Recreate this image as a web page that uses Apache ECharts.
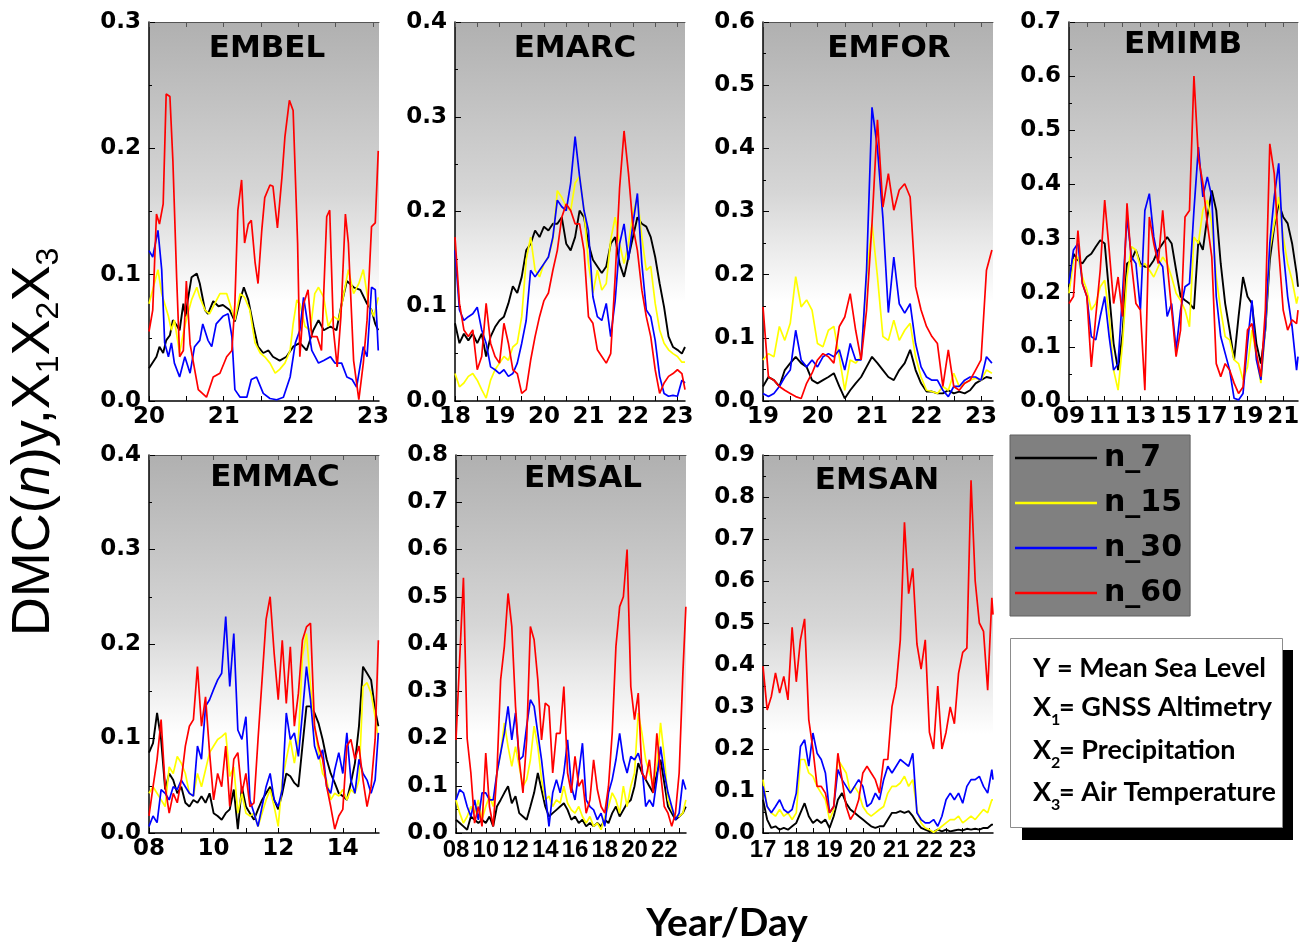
<!DOCTYPE html>
<html>
<head>
<meta charset="utf-8">
<script src="https://cdn.jsdelivr.net/npm/echarts@6/dist/echarts.min.js"></script>
<style>
  html, body { margin: 0; padding: 0; background: #fff; }
  #chart { width: 1306px; height: 944px; }
</style>
</head>
<body>
<div id="chart"></div>
<script>
// ---- Series names and colours (legend order) ----
const seriesNames = ['n_7', 'n_15', 'n_30', 'n_60'];
const seriesColors = ['#000000', '#ffff00', '#0000ff', '#ff0000'];

// ---- EMBEL: [day, DMC] pairs ----
const embelN7 = [[20.00,.026],[20.10,.035],[20.14,.043],[20.19,.038],[20.23,.048],[20.28,.052],[20.32,.064],[20.37,.060],[20.41,.056],[20.46,.077],[20.49,.067],[20.52,.080],[20.57,.098],[20.64,.101],[20.68,.093],[20.75,.072],[20.79,.069],[20.86,.079],[20.93,.075],[20.99,.076],[21.08,.072],[21.15,.063],[21.22,.080],[21.27,.090],[21.33,.080],[21.40,.059],[21.46,.043],[21.53,.038],[21.60,.040],[21.66,.035],[21.75,.032],[21.84,.035],[21.93,.043],[22.02,.046],[22.11,.040],[22.20,.056],[22.27,.064],[22.34,.056],[22.43,.059],[22.51,.056],[22.58,.077],[22.65,.095],[22.74,.090],[22.83,.088],[22.92,.077],[22.98,.072],[23.03,.061],[23.07,.056]];
const embelN15 = [[20.00,.077],[20.05,.088],[20.12,.104],[20.17,.085],[20.21,.077],[20.26,.067],[20.30,.056],[20.34,.064],[20.41,.038],[20.46,.054],[20.51,.067],[20.57,.080],[20.64,.090],[20.68,.082],[20.75,.072],[20.81,.069],[20.88,.077],[20.95,.085],[21.04,.085],[21.11,.072],[21.15,.064],[21.22,.085],[21.28,.082],[21.35,.072],[21.42,.046],[21.49,.038],[21.55,.035],[21.62,.030],[21.69,.022],[21.75,.025],[21.82,.030],[21.89,.040],[21.93,.061],[21.98,.080],[22.02,.077],[22.09,.059],[22.16,.056],[22.22,.085],[22.27,.090],[22.34,.082],[22.40,.059],[22.47,.067],[22.54,.064],[22.60,.082],[22.67,.104],[22.74,.085],[22.81,.093],[22.87,.104],[22.94,.077],[23.01,.067],[23.07,.082]];
const embelN30 = [[20.00,.119],[20.05,.114],[20.12,.135],[20.17,.104],[20.21,.046],[20.26,.035],[20.30,.046],[20.34,.030],[20.41,.019],[20.48,.035],[20.55,.022],[20.61,.043],[20.68,.048],[20.72,.061],[20.79,.048],[20.84,.043],[20.90,.061],[20.99,.067],[21.06,.069],[21.11,.051],[21.15,.009],[21.22,.003],[21.31,.003],[21.37,.017],[21.44,.019],[21.53,.006],[21.62,.002],[21.71,.001],[21.80,.003],[21.89,.019],[21.96,.046],[22.02,.056],[22.07,.082],[22.11,.067],[22.18,.040],[22.27,.030],[22.34,.032],[22.43,.035],[22.49,.030],[22.58,.030],[22.65,.019],[22.72,.017],[22.78,.011],[22.87,.043],[22.92,.035],[22.98,.090],[23.03,.088],[23.07,.040]];
const embelN60 = [[20.00,.055],[20.05,.072],[20.10,.148],[20.14,.140],[20.19,.156],[20.23,.243],[20.28,.241],[20.32,.190],[20.37,.098],[20.41,.035],[20.46,.040],[20.50,.095],[20.55,.045],[20.59,.032],[20.66,.009],[20.77,.003],[20.86,.019],[20.95,.022],[21.04,.035],[21.11,.040],[21.15,.077],[21.19,.151],[21.24,.175],[21.28,.125],[21.33,.140],[21.37,.143],[21.42,.110],[21.46,.093],[21.51,.135],[21.55,.161],[21.62,.171],[21.66,.170],[21.72,.137],[21.78,.177],[21.82,.209],[21.88,.238],[21.93,.230],[21.99,.125],[22.02,.035],[22.07,.077],[22.13,.088],[22.18,.051],[22.25,.051],[22.31,.040],[22.38,.146],[22.42,.151],[22.47,.056],[22.52,.027],[22.57,.067],[22.63,.148],[22.67,.125],[22.74,.032],[22.81,.001],[22.87,.030],[22.92,.064],[22.98,.138],[23.03,.141],[23.07,.198]];
const embelTicks = [20, 21, 22, 23];

// ---- EMARC ----
const arcDays = [18.0,18.1,18.2,18.3,18.4,18.5,18.6,18.7,18.8,18.9,19.0,19.1,19.2,19.3,19.4,19.5,19.6,19.7,19.8,19.9,20.0,20.1,20.2,20.3,20.4,20.5,20.6,20.7,20.8,20.9,21.0,21.1,21.2,21.3,21.4,21.5,21.6,21.7,21.8,21.9,22.0,22.1,22.2,22.3,22.4,22.5,22.6,22.7,22.8,22.9,23.0,23.1,23.17];
const arcN7 = [.082,.061,.071,.064,.071,.061,.071,.047,.068,.078,.085,.089,.103,.121,.114,.131,.159,.166,.180,.173,.184,.180,.187,.187,.194,.166,.159,.173,.201,.194,.166,.149,.142,.135,.142,.166,.173,.145,.131,.152,.173,.194,.187,.184,.173,.152,.124,.099,.068,.057,.054,.050,.057];
const arcN15 = [.029,.015,.019,.026,.029,.022,.012,.003,.022,.033,.040,.047,.043,.057,.061,.089,.149,.173,.138,.131,.145,.152,.170,.222,.215,.205,.201,.230,.237,.201,.145,.114,.138,.117,.124,.170,.194,.166,.145,.166,.198,.215,.173,.138,.142,.103,.075,.061,.054,.050,.047,.041,.041];
const arcN30 = [.159,.096,.085,.089,.092,.099,.075,.061,.036,.033,.029,.033,.026,.029,.040,.061,.085,.138,.131,.138,.145,.152,.173,.212,.205,.201,.230,.279,.237,.201,.180,.110,.089,.085,.103,.068,.106,.166,.187,.149,.187,.219,.145,.096,.089,.064,.026,.008,.005,.006,.005,.022,.019];
const arcN60 = [.173,.103,.075,.068,.075,.033,.047,.103,.061,.047,.040,.082,.061,.033,.029,.008,.012,.043,.068,.089,.106,.114,.138,.159,.194,.208,.201,.187,.187,.159,.089,.082,.054,.047,.040,.050,.131,.225,.285,.240,.184,.159,.117,.089,.068,.033,.008,.019,.026,.029,.033,.029,.012];
const arcTicks = [18, 19, 20, 21, 22, 23];

// ---- EMFOR ----
const forDays = [19.0,19.1,19.2,19.3,19.4,19.5,19.6,19.7,19.8,19.9,20.0,20.1,20.2,20.3,20.4,20.5,20.6,20.7,20.8,20.9,21.0,21.1,21.2,21.3,21.4,21.5,21.6,21.7,21.8,21.9,22.0,22.1,22.2,22.3,22.4,22.5,22.6,22.7,22.8,22.9,23.0,23.1,23.2];
const forN7 = [.023,.038,.033,.023,.049,.060,.070,.060,.054,.033,.028,.033,.038,.044,.023,.004,.017,.028,.038,.054,.070,.060,.049,.038,.033,.049,.060,.081,.049,.028,.015,.015,.012,.012,.017,.012,.015,.012,.017,.028,.033,.038,.036];
const forN15 = [.065,.075,.070,.118,.096,.123,.197,.149,.160,.144,.091,.086,.112,.118,.070,.017,.065,.060,.070,.197,.281,.197,.102,.096,.128,.096,.112,.123,.070,.038,.017,.015,.012,.023,.017,.044,.023,.028,.033,.036,.033,.049,.044];
const forN30 = [.012,.007,.012,.023,.038,.049,.112,.065,.054,.065,.054,.070,.075,.070,.081,.049,.091,.065,.065,.207,.465,.400,.290,.140,.228,.154,.139,.154,.091,.054,.038,.033,.033,.017,.007,.023,.023,.033,.038,.038,.033,.070,.060];
const forN60 = [.149,.038,.033,.023,.017,.012,.007,.004,.028,.044,.065,.075,.070,.060,.118,.133,.170,.112,.065,.144,.281,.445,.307,.360,.302,.334,.344,.323,.181,.144,.118,.102,.091,.023,.081,.023,.017,.028,.033,.049,.065,.207,.239];
const forTicks = [19, 20, 21, 22, 23];

// ---- EMIMB ----
const imbDays = [9.00,9.25,9.50,9.75,10.00,10.25,10.50,10.75,11.00,11.25,11.50,11.75,12.00,12.25,12.50,12.75,13.00,13.25,13.50,13.75,14.00,14.25,14.50,14.75,15.00,15.25,15.50,15.75,16.00,16.25,16.50,16.75,17.00,17.25,17.50,17.75,18.00,18.25,18.50,18.75,19.00,19.25,19.50,19.75,20.00,20.25,20.50,20.75,21.00,21.25,21.50,21.75,21.83];
const imbN7 = [.211,.272,.260,.254,.266,.272,.285,.297,.291,.199,.106,.057,.125,.254,.260,.279,.254,.248,.248,.260,.279,.291,.303,.291,.242,.193,.186,.180,.170,.297,.279,.340,.389,.352,.254,.180,.131,.076,.156,.229,.193,.180,.106,.069,.131,.260,.322,.365,.340,.328,.291,.236,.211];
const imbN15 = [.199,.260,.266,.229,.205,.168,.180,.211,.223,.156,.057,.020,.106,.229,.285,.279,.248,.254,.242,.229,.248,.266,.254,.229,.199,.186,.168,.137,.303,.291,.352,.371,.328,.229,.168,.119,.113,.076,.069,.039,.063,.131,.082,.033,.131,.279,.328,.377,.303,.254,.223,.180,.193];
const imbN30 = [.217,.279,.291,.217,.193,.119,.113,.156,.193,.119,.057,.069,.199,.340,.266,.254,.168,.352,.383,.303,.260,.248,.156,.180,.094,.168,.211,.217,.352,.469,.377,.414,.377,.193,.119,.088,.057,.005,.002,.014,.106,.186,.076,.039,.137,.291,.377,.439,.279,.193,.137,.057,.082];
const imbN60 = [.180,.193,.315,.217,.193,.063,.156,.242,.371,.279,.180,.229,.156,.365,.254,.180,.168,.020,.340,.291,.254,.352,.254,.168,.082,.131,.340,.352,.600,.450,.402,.328,.266,.069,.045,.069,.057,.033,.014,.026,.131,.143,.088,.045,.168,.475,.420,.279,.168,.131,.150,.143,.168];
const imbTicks = [9, 11, 13, 15, 17, 19, 21];

// ---- EMMAC ----
const macDays = [8.000,8.125,8.250,8.375,8.500,8.625,8.750,8.875,9.000,9.125,9.250,9.375,9.500,9.625,9.750,9.875,10.000,10.125,10.250,10.375,10.500,10.625,10.750,10.875,11.000,11.125,11.250,11.375,11.500,11.625,11.750,11.875,12.000,12.125,12.250,12.375,12.500,12.625,12.750,12.875,13.000,13.125,13.250,13.375,13.500,13.625,13.750,13.875,14.000,14.125,14.250,14.375,14.500,14.625,14.750,14.875,15.000,15.100];
const macN7 = [.085,.095,.127,.099,.046,.063,.056,.042,.049,.032,.028,.035,.032,.039,.032,.042,.021,.018,.014,.021,.025,.046,.004,.049,.028,.021,.014,.025,.035,.042,.049,.035,.025,.042,.063,.060,.053,.049,.092,.134,.134,.127,.116,.099,.078,.063,.053,.042,.039,.035,.053,.074,.113,.176,.169,.162,.130,.113];
const macN15 = [.042,.049,.042,.035,.028,.070,.063,.081,.074,.063,.042,.039,.063,.049,.067,.085,.092,.099,.102,.106,.060,.070,.021,.042,.021,.018,.021,.007,.021,.035,.046,.028,.007,.056,.078,.099,.074,.099,.187,.211,.155,.113,.085,.063,.056,.035,.042,.039,.046,.035,.046,.042,.056,.155,.159,.148,.123,.099];
const macN30 = [.007,.018,.011,.046,.042,.035,.049,.046,.056,.049,.042,.039,.092,.078,.134,.141,.152,.162,.169,.229,.155,.211,.109,.099,.123,.035,.021,.007,.028,.049,.063,.035,.028,.046,.127,.099,.106,.081,.127,.176,.141,.092,.078,.088,.049,.042,.067,.085,.063,.106,.056,.042,.078,.063,.056,.042,.056,.106];
const macN60 = [.018,.049,.078,.120,.049,.021,.042,.032,.056,.092,.113,.120,.176,.113,.144,.085,.035,.063,.049,.092,.028,.078,.085,.042,.063,.028,.032,.099,.162,.226,.250,.190,.141,.204,.137,.197,.113,.148,.204,.218,.222,.113,.092,.078,.049,.028,.004,.018,.025,.092,.099,.078,.092,.056,.028,.049,.099,.204];
const macTicks = [8, 10, 12, 14];

// ---- EMSAL ----
const salDays = [8.00,8.25,8.50,8.75,9.00,9.25,9.50,9.75,10.00,10.25,10.50,10.75,11.00,11.25,11.50,11.75,12.00,12.25,12.50,12.75,13.00,13.25,13.50,13.75,14.00,14.25,14.50,14.75,15.00,15.25,15.50,15.75,16.00,16.25,16.50,16.75,17.00,17.25,17.50,17.75,18.00,18.25,18.50,18.75,19.00,19.25,19.50,19.75,20.00,20.25,20.50,20.75,21.00,21.25,21.50,21.75,22.00,22.25,22.50,22.75,23.00,23.25,23.45];
const salN7 = [.028,.021,.014,.007,.035,.028,.021,.028,.021,.035,.014,.056,.070,.085,.099,.063,.078,.042,.035,.028,.056,.085,.127,.092,.056,.035,.042,.049,.056,.063,.049,.028,.035,.021,.028,.014,.021,.014,.021,.014,.028,.021,.042,.056,.035,.049,.063,.070,.099,.148,.127,.113,.099,.085,.127,.155,.106,.056,.042,.028,.035,.042,.056];
const salN15 = [.070,.042,.021,.035,.056,.042,.070,.028,.056,.078,.056,.127,.169,.233,.183,.141,.183,.141,.099,.113,.155,.226,.183,.113,.070,.078,.056,.070,.063,.099,.063,.049,.042,.056,.035,.021,.035,.014,.021,.007,.035,.056,.085,.070,.042,.099,.056,.099,.127,.254,.211,.155,.127,.106,.141,.233,.162,.070,.049,.035,.035,.042,.070];
const salN30 = [.070,.092,.085,.056,.035,.070,.028,.085,.085,.070,.070,.127,.169,.211,.268,.197,.254,.155,.162,.226,.282,.268,.211,.155,.085,.014,.085,.113,.085,.127,.197,.099,.070,.127,.190,.070,.056,.049,.028,.042,.014,.085,.113,.155,.211,.155,.127,.162,.155,.169,.141,.056,.070,.056,.113,.183,.127,.085,.056,.028,.042,.113,.092];
const salN60 = [.197,.370,.540,.200,.127,.021,.056,.014,.169,.056,.014,.127,.324,.395,.507,.437,.268,.155,.085,.197,.437,.409,.324,.197,.275,.268,.127,.211,.211,.310,.127,.085,.162,.099,.113,.042,.070,.155,.092,.056,.042,.099,.211,.395,.479,.500,.600,.310,.240,.296,.127,.113,.155,.085,.211,.127,.056,.042,.014,.042,.127,.338,.479];
const salTicks = [8, 10, 12, 14, 16, 18, 20, 22];

// ---- EMSAN ----
const sanDays = [17.000,17.125,17.250,17.375,17.500,17.625,17.750,17.875,18.000,18.125,18.250,18.375,18.500,18.625,18.750,18.875,19.000,19.125,19.250,19.375,19.500,19.625,19.750,19.875,20.000,20.125,20.250,20.375,20.500,20.625,20.750,20.875,21.000,21.125,21.250,21.375,21.500,21.625,21.750,21.875,22.000,22.125,22.250,22.375,22.500,22.625,22.750,22.875,23.000,23.125,23.250,23.375,23.500,23.625,23.750,23.875,23.910];
const sanN7 = [.079,.032,.012,.016,.008,.012,.008,.016,.024,.048,.071,.040,.024,.032,.024,.032,.012,.040,.079,.095,.071,.056,.048,.040,.032,.024,.016,.012,.016,.016,.032,.048,.048,.052,.048,.052,.040,.024,.012,.008,.004,.002,.008,.004,.008,.004,.006,.008,.006,.010,.008,.010,.008,.012,.012,.020,.020];
const sanN15 = [.127,.063,.048,.040,.056,.040,.048,.032,.048,.175,.175,.143,.135,.111,.095,.079,.032,.056,.175,.159,.143,.095,.111,.095,.063,.048,.040,.048,.056,.063,.095,.111,.111,.119,.135,.111,.127,.056,.024,.012,.008,.002,.008,.016,.024,.032,.032,.040,.024,.032,.040,.032,.044,.056,.048,.079,.079];
const sanN30 = [.111,.063,.048,.063,.079,.056,.048,.056,.095,.206,.222,.159,.238,.190,.175,.143,.048,.063,.151,.127,.111,.095,.111,.127,.111,.063,.071,.095,.079,.127,.159,.143,.159,.175,.167,.159,.190,.048,.032,.024,.024,.032,.016,.040,.079,.095,.079,.095,.071,.111,.127,.127,.135,.111,.095,.151,.127];
const sanN60 = [.397,.293,.325,.381,.333,.373,.317,.490,.360,.460,.510,.270,.200,.111,.111,.095,.048,.063,.190,.127,.063,.032,.048,.079,.143,.159,.143,.127,.095,.175,.175,.301,.349,.460,.740,.570,.630,.450,.390,.460,.240,.200,.350,.200,.240,.300,.260,.380,.430,.440,.840,.600,.500,.480,.340,.560,.520];
const sanTicks = [17, 18, 19, 20, 21, 22, 23];

// pair a shared day axis with one series of values
function zipDays(days, vals) { return days.map((d, i) => [d, vals[i]]); }

// ---- panel layout ----
const panels = [
  { title: 'EMBEL', tx: 267, ty: 49,  rect: [149, 22, 230, 379],  xMin: 20, xMax: 23.08, yMax: 0.3, ticks: embelTicks,
    lines: [embelN7, embelN15, embelN30, embelN60] },
  { title: 'EMARC', tx: 575, ty: 49,  rect: [455, 22, 230, 379],  xMin: 18, xMax: 23.17, yMax: 0.4, ticks: arcTicks,
    lines: [arcN7, arcN15, arcN30, arcN60].map(v => zipDays(arcDays, v)) },
  { title: 'EMFOR', tx: 889, ty: 49,  rect: [763, 22, 230, 379],  xMin: 19, xMax: 23.22, yMax: 0.6, ticks: forTicks,
    lines: [forN7, forN15, forN30, forN60].map(v => zipDays(forDays, v)) },
  { title: 'EMIMB', tx: 1183, ty: 45, rect: [1069, 22, 229, 379], xMin: 9, xMax: 21.83, yMax: 0.7, ticks: imbTicks,
    lines: [imbN7, imbN15, imbN30, imbN60].map(v => zipDays(imbDays, v)) },
  { title: 'EMMAC', tx: 275, ty: 478, rect: [149, 455, 230, 378], xMin: 8, xMax: 15.12, yMax: 0.4, ticks: macTicks,
    lines: [macN7, macN15, macN30, macN60].map(v => zipDays(macDays, v)) },
  { title: 'EMSAL', tx: 583, ty: 479, rect: [456, 455, 230, 378], xMin: 8, xMax: 23.46, yMax: 0.8, ticks: salTicks,
    narrowLabels: true, lines: [salN7, salN15, salN30, salN60].map(v => zipDays(salDays, v)) },
  { title: 'EMSAN', tx: 877, ty: 481, rect: [763, 455, 230, 378], xMin: 17, xMax: 23.91, yMax: 0.9, ticks: sanTicks,
    narrowLabels: true, lines: [sanN7, sanN15, sanN30, sanN60].map(v => zipDays(sanDays, v)) }
];

const tickFont = { fontFamily: 'DejaVu Sans', fontWeight: 'bold', fontSize: 23, color: '#000' };
const narrowTickFont = { fontFamily: 'Liberation Sans', fontWeight: 'bold', fontSize: 24, color: '#000' };
const panelBg = {
  type: 'linear', x: 0, y: 0, x2: 0, y2: 1,
  colorStops: [
    { offset: 0, color: '#b0b0b0' },
    { offset: 0.45, color: '#d6d6d6' },
    { offset: 0.74, color: '#ffffff' },
    { offset: 1, color: '#ffffff' }
  ]
};

// tick marks at every labelled day and halfway between them
function tickMarks(ticks, xMax) {
  const out = [];
  const step = ticks[1] - ticks[0];
  ticks.forEach(t => { out.push(t); if (t + step / 2 <= xMax) out.push(t + step / 2); });
  return out;
}

const grids = [], xAxes = [], topAxes = [], yAxes = [], series = [], graphics = [];
panels.forEach((p, i) => {
  const marks = tickMarks(p.ticks, p.xMax);
  grids.push({ left: p.rect[0], top: p.rect[1], width: p.rect[2], height: p.rect[3],
    show: true, backgroundColor: panelBg, borderWidth: 0, containLabel: false });
  xAxes.push({
    type: 'value', gridIndex: i, min: p.xMin, max: p.xMax, position: 'bottom',
    axisLine: { show: true, onZero: false, lineStyle: { color: '#000', width: 1.5 } },
    axisTick: { show: true, inside: true, length: 5, customValues: marks, lineStyle: { color: '#000' } },
    axisLabel: { ...(p.narrowLabels ? narrowTickFont : tickFont), margin: 5, customValues: p.ticks,
      hideOverlap: false, showMinLabel: true, showMaxLabel: true,
      formatter: v => String(Math.round(v)).padStart(2, '0') },
    splitLine: { show: false }
  });
  topAxes.push({
    type: 'value', gridIndex: i, min: p.xMin, max: p.xMax, position: 'top',
    axisLine: { show: true, onZero: false, lineStyle: { color: '#555', width: 1 } },
    axisTick: { show: true, inside: true, length: 5, customValues: marks, lineStyle: { color: '#555' } },
    axisLabel: { show: false }, splitLine: { show: false }
  });
  yAxes.push({
    type: 'value', gridIndex: i, min: 0, max: p.yMax, interval: 0.1,
    axisLine: { show: true, lineStyle: { color: '#000', width: 1.5 } },
    axisTick: { show: true, inside: true, length: 6, lineStyle: { color: '#000' } },
    minorTick: { show: true, splitNumber: 2, length: 3, lineStyle: { color: '#000' } },
    axisLabel: { ...tickFont, margin: 8, formatter: v => v.toFixed(1) },
    splitLine: { show: false }, minorSplitLine: { show: false }
  });
  p.lines.forEach((d, k) => {
    series.push({
      type: 'line', name: seriesNames[k], xAxisIndex: i, yAxisIndex: i, data: d,
      symbol: 'none', showSymbol: false, smooth: false, clip: true, z: 2 + k,
      lineStyle: { color: seriesColors[k], width: k === 0 ? 1.9 : 1.7 },
      itemStyle: { color: seriesColors[k] },
      emphasis: { disabled: true }
    });
  });
  graphics.push({ type: 'text', x: p.tx, y: p.ty, z: 10,
    style: { text: p.title, fontFamily: 'DejaVu Sans', fontWeight: 'bold', fontSize: 31,
      fill: '#000', align: 'center', verticalAlign: 'middle' } });
});

// vertical axis title with italic n and subscripts
graphics.push({
  type: 'text', x: 34, y: 442, rotation: Math.PI / 2, z: 10,
  style: {
    text: '{m|DMC(}{i|n}{m|)y,X}{s|1}{m|X}{s|2}{m|X}{s|3}',
    align: 'center', verticalAlign: 'middle',
    rich: {
      m: { fontFamily: 'Liberation Sans', fontSize: 54, lineHeight: 62, fill: '#000', verticalAlign: 'middle' },
      i: { fontFamily: 'Liberation Sans', fontStyle: 'italic', fontSize: 54, lineHeight: 62, fill: '#000', verticalAlign: 'middle' },
      s: { fontFamily: 'Liberation Sans', fontSize: 32, lineHeight: 16, fill: '#000', verticalAlign: 'bottom' }
    }
  }
});

// horizontal axis title
graphics.push({ type: 'text', x: 727, y: 923, z: 10,
  style: { text: 'Year/Day', fontFamily: 'Lato', fontWeight: 'bold', fontSize: 39, fill: '#000',
    align: 'center', verticalAlign: 'middle' } });

// definitions box with drop shadow
const defFont = { fontFamily: 'Lato', fontWeight: 'bold', fontSize: 27, fill: '#000', verticalAlign: 'middle' };
const subFont = { fontFamily: 'Lato', fontWeight: 'bold', fontSize: 16, fill: '#000', verticalAlign: 'middle' };
graphics.push({ type: 'rect', shape: { x: 1022, y: 650, width: 271, height: 190 }, style: { fill: '#000' }, z: 5 });
graphics.push({ type: 'rect', shape: { x: 1010.5, y: 638.5, width: 272, height: 189 },
  style: { fill: '#fff', stroke: '#8c8c8c', lineWidth: 1 }, z: 6 });
graphics.push({ type: 'text', x: 1033, y: 668, z: 7, style: { ...defFont, text: 'Y = Mean Sea Level' } });
const defRows = [
  { sub: '1', text: '= GNSS Altimetry', y: 707 },
  { sub: '2', text: '= Precipitation', y: 750 },
  { sub: '3', text: '= Air Temperature', y: 792 }
];
defRows.forEach(r => {
  graphics.push({ type: 'text', x: 1033, y: r.y, z: 7, style: { ...defFont, text: 'X' } });
  graphics.push({ type: 'text', x: 1051, y: r.y + 13, z: 7, style: { ...subFont, text: r.sub } });
  graphics.push({ type: 'text', x: 1059, y: r.y, z: 7, style: { ...defFont, text: r.text } });
});

const chart = echarts.init(document.getElementById('chart'), null, { renderer: 'canvas' });
chart.setOption({
  backgroundColor: '#ffffff',
  animation: false,
  grid: grids,
  xAxis: xAxes.concat(topAxes),
  yAxis: yAxes,
  series: series,
  legend: {
    data: seriesNames.map(n => ({ name: n, icon: 'rect' })),
    orient: 'vertical', left: 1010, top: 435,
    itemWidth: 82, itemHeight: 2.5, itemGap: 15,
    padding: [8, 8, 8, 5],
    backgroundColor: '#808080', borderColor: '#606060', borderWidth: 1,
    selectedMode: false,
    textStyle: { fontFamily: 'DejaVu Sans', fontWeight: 'bold', fontSize: 30, color: '#000', lineHeight: 30, padding: [0, 0, 0, 2] }
  },
  graphic: graphics
});
</script>
</body>
</html>
